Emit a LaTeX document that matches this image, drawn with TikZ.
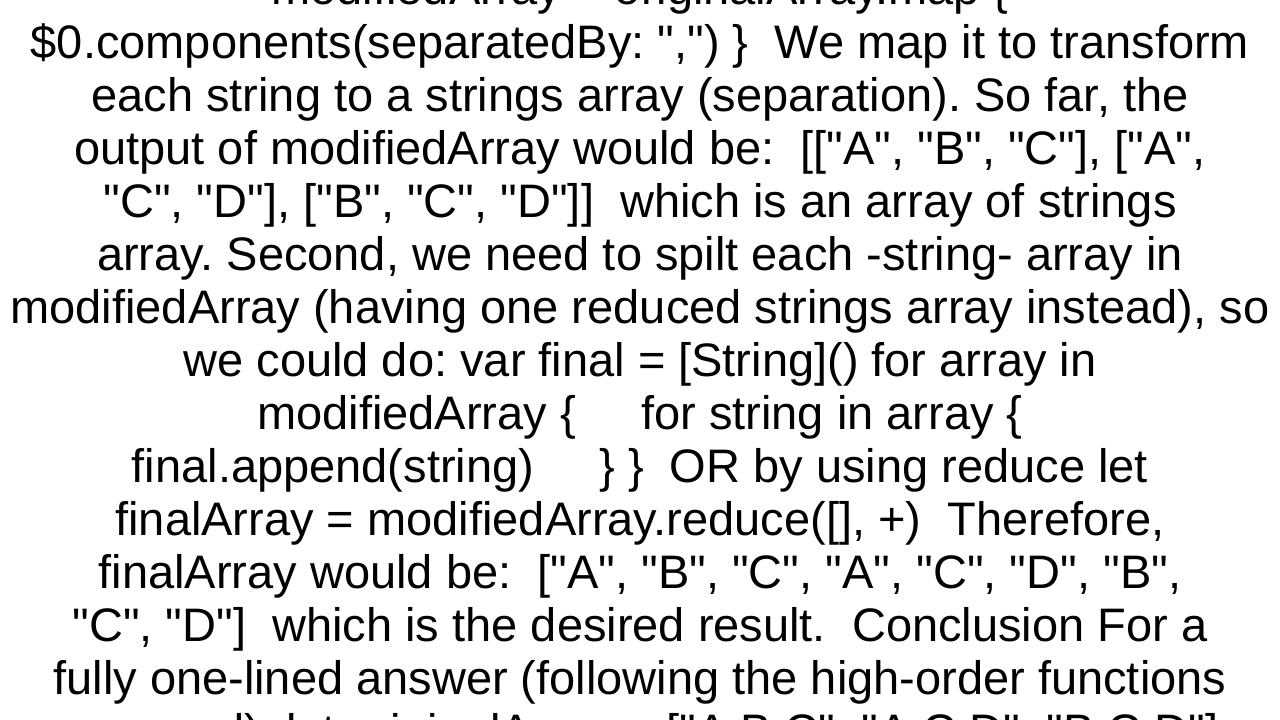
\documentclass[tikz,border=0pt]{standalone}
\usepackage{fontspec}
\setmainfont{Liberation Sans}[Ligatures=TeXOff]
\begin{document}
\frenchspacing
\begin{tikzpicture}[x=1pt,y=-1pt,txt/.style={anchor=base,inner sep=0pt,font=\fontsize{47}{56}\selectfont}]
\useasboundingbox[fill=white] (0,0) rectangle (1280,720);
\begin{scope}
\clip (0,0) rectangle (1280,720);
\foreach \t [count=\i from 0] in {
{modifiedArray = originalArray.map \{},
{\$0.components(separatedBy: ",") \}\ \ We map it to transform},
{each string to a strings array (separation). So far, the},
{output of modifiedArray would be:\ \ [["A", "B", "C"], ["A",},
{"C", "D"], ["B", "C", "D"]]\ \ which is an array of strings},
{array. Second, we need to spilt each -string- array in},
{modifiedArray (having one reduced strings array instead), so},
{we could do: var final = [String]() for array in},
{modifiedArray \{\ \ \ \ \ for string in array \{},
{final.append(string)\ \ \ \ \ \} \}\ \ OR by using reduce let},
{finalArray = modifiedArray.reduce([], +)\ \ Therefore,},
{finalArray would be:\ \ ["A", "B", "C", "A", "C", "D", "B",},
{"C", "D"]\ \ which is the desired result.\ \ Conclusion For a},
{fully one-lined answer (following the high-order functions},
{are used), let originalArray = ["A,B,C", "A,C,D", "B,C,D"]}
}{
\node[txt] (l\i) at (640,{5+53*\i}) {\t};
}
\end{scope}
\end{tikzpicture}
\end{document}
